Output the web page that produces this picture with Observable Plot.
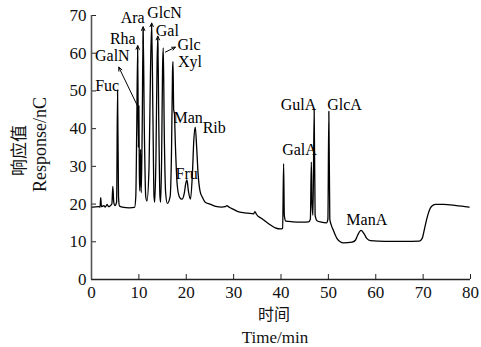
<!DOCTYPE html>
<html>
<head>
<meta charset="utf-8">
<script src="https://cdn.jsdelivr.net/npm/d3@7"></script>
<script src="https://cdn.jsdelivr.net/npm/@observablehq/plot@0.6"></script>
<style>
  html, body { margin: 0; padding: 0; background: #fff; }
  #chart { width: 481px; height: 347px; }
</style>
</head>
<body>
<div id="chart"></div>
<script>
// Chromatogram trace
const time = [0.2, 1.5, 1.8, 1.95, 2.1, 2.6, 2.9, 3.3, 3.6, 4.0, 4.3, 4.5, 4.7, 4.95, 5.3, 5.5, 5.7, 5.9, 6.5, 8.0, 9.1,
  9.35, 9.55, 9.75, 9.9, 10.0, 10.1, 10.2, 10.35, 10.5,
  10.7, 10.9, 11.15, 11.45, 11.7,
  12.15, 12.45, 12.7, 12.95, 13.2, 13.35,
  13.6, 13.85, 14.0, 14.2, 14.45, 14.6,
  14.8, 15.0, 15.15, 15.35, 15.65, 16.0,
  16.6, 16.9, 17.1, 17.2, 17.35, 17.5, 17.7, 18.1, 18.6, 19.1,
  19.6, 19.9, 20.15, 20.45, 20.9,
  21.3, 21.6, 21.9, 22.2, 22.5, 22.9, 23.4, 24.0, 25.0, 26.2, 27.5, 28.2, 28.6, 29.0, 30.0, 31.1, 33.0, 34.2, 34.5, 34.8,
  36.0, 37.4, 38.8, 39.9, 40.35, 40.55, 40.7, 41.0, 42.5, 44.5, 45.8, 46.2, 46.4, 46.55, 46.75, 47.0, 47.2, 47.6, 48.5,
  49.6, 49.9, 50.1, 50.3, 50.6, 51.0, 51.8, 52.5, 53.2, 55.0, 55.7, 56.2, 56.9, 57.6, 58.1, 58.9, 62.0, 66.0, 69.2,
  69.8, 70.3, 70.8, 71.3, 71.8, 72.6, 74.3, 77.0, 79.7];
const response = [19.2, 19.3, 19.2, 21.7, 19.3, 19.6, 19.2, 19.9, 19.3, 19.6, 20.0, 24.7, 20.5, 19.6, 20.5, 50.3, 22.0, 19.5, 19.2, 19.0, 19.1,
  22.0, 40.0, 61.5, 35.0, 46.0, 28.0, 23.5, 34.5, 23.0,
  40.0, 66.5, 40.0, 22.0, 20.8,
  30.0, 55.0, 67.5, 45.0, 22.0, 20.5,
  32.0, 58.0, 64.0, 42.0, 22.0, 20.5,
  32.0, 56.0, 61.4, 40.0, 23.0, 20.2,
  22.0, 35.0, 55.0, 57.8, 45.0, 44.0, 36.0, 25.0, 21.8, 21.3,
  23.0, 25.5, 26.4, 23.5, 21.3,
  28.0, 37.0, 40.4, 35.0, 28.0, 23.5, 21.8, 20.5, 20.0, 19.4, 19.2, 19.3, 19.6, 19.2, 18.6, 17.9, 17.6, 17.4, 18.0, 17.3,
  16.1, 14.8, 13.7, 13.4, 13.6, 30.7, 17.0, 15.5, 15.3, 15.2, 15.3, 16.0, 31.1, 20.0, 17.0, 45.0, 17.0, 15.6, 15.2,
  15.0, 16.0, 44.6, 16.0, 14.5, 13.2, 10.9, 10.0, 9.7, 9.9, 10.4, 11.8, 13.0, 12.0, 10.9, 10.3, 10.1, 10.1, 10.2,
  10.9, 13.5, 16.2, 18.3, 19.4, 19.9, 19.9, 19.6, 19.2];

// Peak labels (name, time, response)
const peakNames = ["Fuc", "GalN", "Rha", "Ara", "GlcN", "Gal", "Glc", "Xyl", "Man", "Fru", "Rib", "GalA", "GulA", "GlcA", "ManA"];
const peakLabelTime = [3.3, 4.4, 6.6, 8.7, 15.4, 16.0, 20.6, 20.8, 20.4, 20.1, 25.9, 43.9, 43.7, 53.4, 58.1];
const peakLabelResp = [51.4, 59.2, 63.8, 69.4, 70.6, 65.9, 62.1, 57.7, 42.9, 27.9, 40.1, 34.4, 46.3, 46.3, 15.9];

// Arrow annotations: from (t1,v1) to (t2,v2)
const arrowT1 = [9.64, 15.6, 9.75, 10.9, 12.7, 14.0];
const arrowV1 = [46.2, 60.3, 57.5, 62.5, 63.5, 60.0];
const arrowT2 = [5.76, 17.7, 9.75, 10.9, 12.7, 14.0];
const arrowV2 = [56.3, 61.6, 62.0, 67.0, 68.0, 64.5];

const xTicks = [0, 10, 20, 30, 40, 50, 60, 70, 80];
const yTicks = [0, 10, 20, 30, 40, 50, 60, 70];

const trace = time.map((t, i) => ({t, v: response[i]}));
const labels = peakNames.map((n, i) => ({n, t: peakLabelTime[i], v: peakLabelResp[i]}));
const arrows = arrowT1.map((t1, i) => ({t1, v1: arrowV1[i], t2: arrowT2[i], v2: arrowV2[i]}));

const serif = "'Liberation Serif', 'Times New Roman', serif";

const chart = Plot.plot({
  width: 481,
  height: 347,
  marginLeft: 91,
  marginRight: 11,
  marginTop: 15,
  marginBottom: 68,
  style: {fontFamily: serif, fontSize: "17px", background: "#fff", color: "#111"},
  x: {domain: [0, 80]},
  y: {domain: [0, 70]},
  marks: [
    Plot.axisX({ticks: xTicks, tickSize: -5, tickPadding: 11, label: null, fontSize: 17, stroke: "#222"}),
    Plot.axisY({ticks: yTicks, tickSize: -5, tickPadding: 10, label: null, fontSize: 17, stroke: "#222"}),
    Plot.ruleY([0], {stroke: "#222", strokeWidth: 1.3}),
    Plot.ruleX([0], {stroke: "#555", strokeWidth: 1.6}),
    Plot.line(trace, {x: "t", y: "v", stroke: "#000", strokeWidth: 1.3, curve: "monotone-x"}),
    Plot.arrow(arrows, {x1: "t1", y1: "v1", x2: "t2", y2: "v2", stroke: "#000", strokeWidth: 1, headLength: 6, headAngle: 50}),
    Plot.text(labels, {x: "t", y: "v", text: "n", fontSize: 16, fill: "#000", textAnchor: "middle", lineAnchor: "middle"}),
    Plot.text(["响应值"], {frameAnchor: "left", dx: -72, dy: 3, rotate: -90, fontSize: 17, fontFamily: "'Noto Sans CJK SC'", fill: "#111", textAnchor: "middle", lineAnchor: "middle"}),
    Plot.text(["Response/nC"], {frameAnchor: "left", dx: -51, dy: -3, rotate: -90, fontSize: 18, fill: "#111", textAnchor: "middle", lineAnchor: "middle"}),
    Plot.text(["时间"], {frameAnchor: "bottom", dx: -7, dy: 35, fontSize: 16, fontFamily: "'Noto Sans CJK SC'", fill: "#111", textAnchor: "middle", lineAnchor: "middle"}),
    Plot.text(["Time/min"], {frameAnchor: "bottom", dx: -6, dy: 58, fontSize: 17, fill: "#111", textAnchor: "middle", lineAnchor: "middle"})
  ]
});
document.getElementById("chart").appendChild(chart);
</script>
</body>
</html>
